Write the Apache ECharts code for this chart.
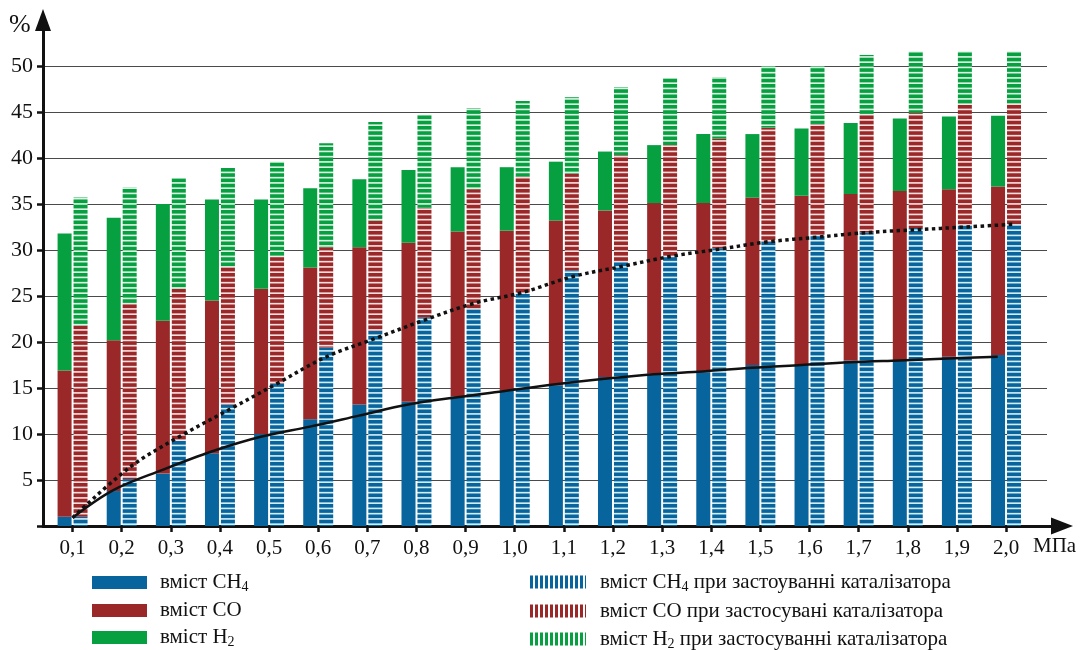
<!DOCTYPE html>
<html>
<head>
<meta charset="utf-8">
<script src="https://cdn.jsdelivr.net/npm/echarts@6/dist/echarts.min.js"></script>
<style>html,body{margin:0;padding:0;background:#fff}#c{width:1081px;height:650px}</style>
</head>
<body>
<div id="c"></div>
<script>
const categories = ['0,1','0,2','0,3','0,4','0,5','0,6','0,7','0,8','0,9','1,0','1,1','1,2','1,3','1,4','1,5','1,6','1,7','1,8','1,9','2,0'];
const yTicks = [0,5,10,15,20,25,30,35,40,45,50];

// without catalyst (stacked parts)
const ch4 = [1.0, 3.8, 5.7, 7.9, 10.0, 11.6, 13.2, 13.5, 14.1, 14.7, 15.3, 16.2, 16.6, 16.7, 17.5, 17.6, 18.0, 18.0, 18.4, 18.6];
const co  = [15.9, 16.4, 16.6, 16.6, 15.8, 16.5, 17.1, 17.3, 17.9, 17.4, 17.9, 18.1, 18.5, 18.4, 18.2, 18.3, 18.1, 18.4, 18.2, 18.3];
const h2  = [14.9, 13.3, 12.7, 11.0, 9.7, 8.6, 7.4, 7.9, 7.0, 6.9, 6.4, 6.4, 6.3, 7.5, 6.9, 7.3, 7.7, 7.9, 7.9, 7.7];

// with catalyst (stacked parts)
const ch4c = [1.0, 5.1, 9.3, 13.2, 15.5, 19.4, 21.2, 22.7, 23.6, 25.3, 27.8, 28.7, 29.3, 30.2, 30.9, 31.6, 31.9, 32.4, 32.7, 32.8];
const coc  = [20.8, 19.1, 16.5, 15.0, 13.8, 10.9, 12.0, 11.9, 13.0, 12.7, 10.5, 11.6, 12.1, 11.9, 12.4, 12.1, 12.8, 12.5, 13.1, 13.1];
const h2c  = [13.9, 12.6, 12.0, 10.7, 10.3, 11.3, 10.7, 10.1, 8.8, 8.2, 8.3, 7.4, 7.3, 6.7, 6.7, 6.3, 6.5, 6.7, 5.8, 5.7];

// trend curves
const trendCH4  = [0.9, 3.9, 6.1, 8.1, 9.7, 10.8, 12.0, 13.2, 14.0, 14.7, 15.4, 16.0, 16.5, 16.8, 17.2, 17.5, 17.8, 18.0, 18.2, 18.4];
const trendCH4c = [0.9, 6.4, 9.7, 12.6, 15.5, 18.4, 20.4, 22.4, 24.2, 25.4, 27.1, 28.2, 29.3, 30.1, 30.9, 31.4, 31.9, 32.2, 32.5, 32.8];

const names = ['вміст CH4','вміст CO','вміст H2',
  'вміст CH4 при застоуванні каталізатора','вміст CO при застосувані каталізатора','вміст H2 при застосуванні каталізатора'];

const BLUE = '#07649c', RED = '#9a2828', GREEN = '#07a040';
const FONT = 'Liberation Serif';

function hPattern(color, gap) {
  const c = document.createElement('canvas'); c.width = 4; c.height = 21;
  const x = c.getContext('2d');
  x.fillStyle = gap; x.fillRect(0, 0, 4, 21);
  x.fillStyle = color;
  for (let k = 0; k < 4; k++) x.fillRect(0, k * 5.25, 4, 3.6);
  return { image: c, repeat: 'repeat' };
}
function vPattern(color) {
  const c = document.createElement('canvas'); c.width = 5; c.height = 4;
  const x = c.getContext('2d');
  x.fillStyle = '#ffffff'; x.fillRect(0, 0, 5, 4);
  x.fillStyle = color; x.fillRect(0, 0, 3, 4);
  return { image: c, repeat: 'repeat' };
}

const chart = echarts.init(document.getElementById('c'), null, { renderer: 'canvas' });

const barBase = { type: 'bar', xAxisIndex: 0, yAxisIndex: 0, barWidth: 14, barGap: '14%' };
const lineX = (arr, off) => arr.map((v, i) => [i + 0.5 + (i === 0 ? 0 : off), v]);

const legendText = {
  fontFamily: FONT, fontSize: 21, color: '#111', lineHeight: 22,
  rich: { s: { fontFamily: FONT, fontSize: 14, color: '#111', lineHeight: 22, verticalAlign: 'bottom', padding: [0, 0, -1, 0] } }
};
const fmt = n => n.replace(/(CH|H)(\d)/, '$1{s|$2}');

chart.setOption({
  animation: false,
  backgroundColor: '#ffffff',
  grid: [
    { left: 48, right: 50.4, top: 20, bottom: 124 },   // bars (0..55)
    { left: 43, right: 34, top: 66, bottom: 124 },     // grid lines + y labels (0..50)
    { left: 43, right: 19, top: 20, bottom: 124 }      // arrow axes
  ],
  xAxis: [
    { type: 'category', gridIndex: 0, data: categories,
      axisLine: { show: false },
      axisTick: { show: true, alignWithLabel: true, length: 6, lineStyle: { color: '#111', width: 2.5 } },
      axisLabel: { fontFamily: FONT, fontSize: 21, color: '#111', margin: 12 },
      splitLine: { show: false } },
    { type: 'value', gridIndex: 0, min: 0, max: 20, show: false },
    { type: 'value', gridIndex: 1, min: 0, max: 1, show: false },
    { type: 'value', gridIndex: 2, min: 0, max: 1,
      axisLine: { show: true, symbol: ['none', 'triangle'], symbolSize: [17, 22], lineStyle: { color: '#111', width: 3 } },
      axisTick: { show: false }, axisLabel: { show: false }, splitLine: { show: false } }
  ],
  yAxis: [
    { type: 'value', gridIndex: 0, min: 0, max: 55, interval: 5, show: false },
    { type: 'value', gridIndex: 1, min: 0, max: 50, interval: 5,
      axisLine: { show: false },
      axisTick: { show: true, length: 6, lineStyle: { color: '#111', width: 2.5 } },
      axisLabel: { fontFamily: FONT, fontSize: 22, color: '#111', margin: 10,
        formatter: v => (yTicks.indexOf(v) > 0 ? String(v) : '') },
      splitLine: { show: true, lineStyle: { color: '#4a4a4a', width: 1 } } },
    { type: 'value', gridIndex: 2, min: 0, max: 1,
      axisLine: { show: true, symbol: ['none', 'triangle'], symbolSize: [16, 22], lineStyle: { color: '#111', width: 3 } },
      axisTick: { show: false }, axisLabel: { show: false }, splitLine: { show: false } }
  ],
  legend: [
    { orient: 'vertical', left: 92, top: 571.5, height: 90, itemWidth: 55, itemHeight: 13, itemGap: 5, icon: 'rect',
      selectedMode: false, formatter: fmt, padding: 0,
      textStyle: Object.assign({ padding: [0, 0, 0, 8] }, legendText),
      data: [names[0], names[1], names[2]] },
    { orient: 'vertical', left: 530, top: 571, height: 90, itemWidth: 56, itemHeight: 13, itemGap: 6, icon: 'rect',
      selectedMode: false, formatter: fmt, padding: 0,
      textStyle: Object.assign({ padding: [0, 0, 0, 9] }, legendText),
      data: [
        { name: names[3], itemStyle: { color: vPattern(BLUE) } },
        { name: names[4], itemStyle: { color: vPattern(RED) } },
        { name: names[5], itemStyle: { color: vPattern(GREEN) } }
      ] }
  ],
  graphic: [
    { type: 'text', left: 9, top: 12, style: { text: '%', fontFamily: FONT, fontSize: 26, fill: '#111' } },
    { type: 'text', left: 1033, top: 536, style: { text: 'МПа', fontFamily: FONT, fontSize: 21, fill: '#111' } }
  ],
  series: [
    Object.assign({ name: names[0], stack: 'a', data: ch4, itemStyle: { color: BLUE } }, barBase),
    Object.assign({ name: names[1], stack: 'a', data: co, itemStyle: { color: RED } }, barBase),
    Object.assign({ name: names[2], stack: 'a', data: h2, itemStyle: { color: GREEN } }, barBase),
    Object.assign({ name: names[3], stack: 'b', data: ch4c, itemStyle: { color: hPattern(BLUE, '#d3edf5') } }, barBase),
    Object.assign({ name: names[4], stack: 'b', data: coc, itemStyle: { color: hPattern(RED, '#f4dede') } }, barBase),
    Object.assign({ name: names[5], stack: 'b', data: h2c, itemStyle: { color: hPattern(GREEN, '#dcf2e2') } }, barBase),
    { type: 'line', xAxisIndex: 1, yAxisIndex: 0, data: lineX(trendCH4, -0.17), smooth: 0.35,
      showSymbol: false, z: 5, lineStyle: { color: '#111', width: 2.5 } },
    { type: 'line', xAxisIndex: 1, yAxisIndex: 0, data: lineX(trendCH4c, 0.17), smooth: 0.35,
      showSymbol: false, z: 5, lineStyle: { color: '#111', width: 3.5, type: [3.5, 3.5], cap: 'butt' } }
  ]
});
</script>
</body>
</html>
